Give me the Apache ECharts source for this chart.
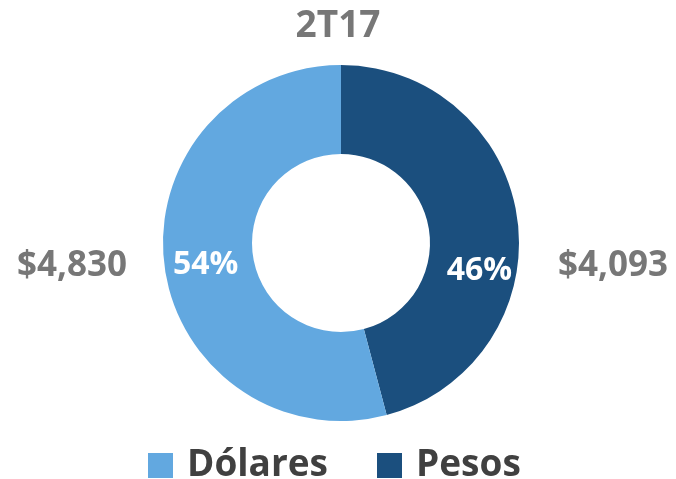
<!DOCTYPE html>
<html>
<head>
<meta charset="utf-8">
<script src="https://cdn.jsdelivr.net/npm/echarts@6/dist/echarts.min.js"></script>
<style>
html,body{margin:0;padding:0;background:#fff;}
#main{width:676px;height:479px;}
</style>
</head>
<body>
<div id="main"></div>
<script>
// datos del trimestre
const periodo = '2T17';
const monedas = ['Pesos', 'Dólares'];
const montos = [4093, 4830];
const colores = ['#1b4f7e', '#62a8e0'];
const ordenLeyenda = ['Dólares', 'Pesos'];

const total = montos.reduce((a, b) => a + b, 0);
const fmt = v => '$' + v.toLocaleString('en-US');

let myChart = echarts.init(document.getElementById('main'));
let option = {
	backgroundColor: '#fff',
	title: {
		text: periodo,
		left: 'center',
		top: 3,
		textStyle: {fontFamily: 'Open Sans', fontWeight: 'bold', fontSize: 37, color: '#777777'}
	},
	legend: {
		data: ordenLeyenda,
		left: 143,
		top: 442,
		icon: 'rect',
		itemWidth: 25,
		itemHeight: 25,
		itemGap: 49,
		textStyle: {fontFamily: 'Open Sans', fontWeight: 'bold', fontSize: 37, color: '#404040', padding: [0, 0, 0, 9]}
	},
	graphic: [
		{type: 'text', left: 17, top: 249, style: {text: fmt(montos[1]), font: 'bold 35px "Open Sans"', fill: '#777777'}},
		{type: 'text', right: 8, top: 249, style: {text: fmt(montos[0]), font: 'bold 35px "Open Sans"', fill: '#777777'}}
	],
	series: [{
		type: 'pie',
		center: [341, 243],
		radius: [89, 178],
		startAngle: 90,
		clockwise: true,
		avoidLabelOverlap: false,
		silent: true,
		data: monedas.map((m, i) => ({
			name: m,
			value: montos[i],
			itemStyle: {color: colores[i]},
			label: i === 0 ? {offset: [3, 46]} : {offset: [0, 4]}
		})),
		label: {
			show: true,
			position: 'inside',
			formatter: p => Math.round(p.value / total * 100) + '%',
			fontFamily: 'Open Sans',
			fontWeight: 'bold',
			fontSize: 32,
			color: '#ffffff'
		},
		labelLine: {show: false}
	}]
};
myChart.setOption(option);
</script>
</body>
</html>
